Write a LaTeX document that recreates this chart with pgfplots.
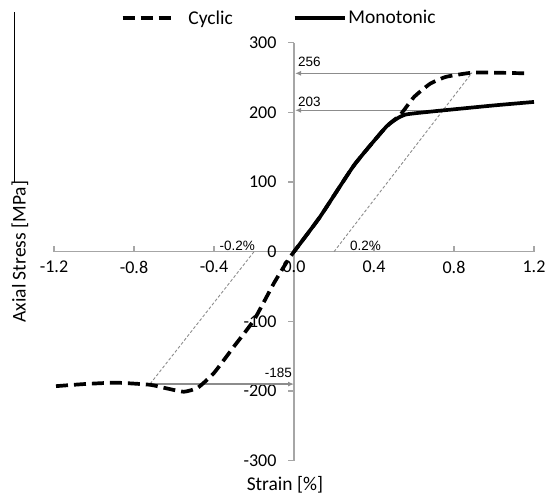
\documentclass[border=0pt]{standalone}
\usepackage{fontspec}
\setmainfont{Carlito}
\newfontfamily\arial{Liberation Sans}
\usepackage{pgfplots}
\pgfplotsset{compat=1.18}
\usetikzlibrary{arrows.meta}
\definecolor{axisgray}{HTML}{A6A6A6}
\definecolor{annogray}{HTML}{8C8C8C}

\begin{document}
\begin{tikzpicture}
\begin{axis}[
    scale only axis,
    width=480pt, height=418pt,
    xmin=-1.2, xmax=1.2, ymin=-300, ymax=300,
    axis lines=middle,
    axis line style={axisgray, line width=1.2pt, -},
    clip=false,
    xtick={-1.2,-0.8,-0.4,0,0.4,0.8,1.2},
    xticklabels={-1.2,-0.8,-0.4,0.0,0.4,0.8,1.2},
    ytick={-300,-200,-100,0,100,200,300},
    yticklabels={-300,-200,-100,0,100,200,300},
    hide obscured x ticks=false, hide obscured y ticks=false,
    major tick length=6pt,
    tick style={axisgray, line width=1.2pt},
    xtick align=inside, ytick align=outside,
    tick label style={font=\fontsize{18}{20}\selectfont},
    x tick label style={anchor=north, yshift=-6pt},
    y tick label style={anchor=east, xshift=-8pt},
    xlabel={Strain [\%]},
    ylabel={Axial Stress [MPa]},
    label style={font=\fontsize{19.5}{22}\selectfont},
    xlabel style={at={(axis description cs:0.481,-0.058)}, anchor=center},
    ylabel style={at={(axis description cs:-0.071,0.5)}, anchor=center, rotate=90},
    legend columns=2,
    legend style={at={(axis description cs:0.469,1.059)}, anchor=center,
        draw=none, fill=none, font=\fontsize{19.5}{22}\selectfont,
        /tikz/every even column/.append style={column sep=58pt}},
    legend image code/.code={\draw[#1] (0pt,0pt) -- (50pt,0pt);},
]
% offset lines and read-off arrows
\addplot[forget plot, annogray, line width=0.9pt, dash pattern=on 3pt off 2pt]
    coordinates {(0.2,0) (0.89,257)};
\addplot[forget plot, annogray, line width=0.9pt, dash pattern=on 3pt off 2pt]
    coordinates {(-0.2,0) (-0.72,-190)};
\addplot[forget plot, annogray, line width=1.5pt, -{Latex[length=6pt,width=5pt]}]
    coordinates {(0.89,256) (0.005,256)};
\addplot[forget plot, annogray, line width=1.5pt, -{Latex[length=6pt,width=5pt]}]
    coordinates {(0.75,203) (0.005,203)};
\addplot[forget plot, annogray, line width=1.5pt, -{Latex[length=6pt,width=5pt]}]
    coordinates {(-0.72,-190) (0.0,-190)};

\addplot[black, line width=3.7pt, dash pattern=on 12pt off 6pt, smooth, tension=0.3] coordinates {
    (-1.19,-193) (-1.05,-190) (-0.89,-188) (-0.72,-191) (-0.64,-196)
    (-0.55,-201) (-0.48,-195) (-0.40,-174) (-0.30,-136) (-0.20,-98)
    (-0.10,-45) (-0.03,-12) (0,0) (0.13,50) (0.30,124) (0.46,179)
    (0.53,196) (0.60,222) (0.68,241) (0.76,251) (0.89,257) (1.0,257)
    (1.17,256)};
\addlegendentry{\hspace{12pt}Cyclic}
\addplot[black, line width=3.7pt, smooth, tension=0.3] coordinates {
    (0,0) (0.13,50) (0.30,124) (0.46,179) (0.52,192) (0.56,197)
    (0.63,199.5) (0.75,203) (1.0,210) (1.2,215)};
\addlegendentry{Monotonic}

\node[anchor=west, inner sep=0pt, font=\arial\fontsize{13.5}{15}\selectfont] at (axis cs:0.02,272) {256};
\node[anchor=west, inner sep=0pt, font=\arial\fontsize{13.5}{15}\selectfont] at (axis cs:0.02,215) {203};
\node[anchor=east, inner sep=0pt, font=\arial\fontsize{13.5}{15}\selectfont] at (axis cs:-0.01,-174) {-185};
\node[anchor=east, inner sep=0pt, font=\arial\fontsize{13.5}{15}\selectfont] at (axis cs:-0.195,9) {-0.2\%};
\node[anchor=west, inner sep=0pt, font=\arial\fontsize{13.5}{15}\selectfont] at (axis cs:0.28,9) {0.2\%};

\draw[black, line width=1pt] (axis description cs:-0.083,1.073) -- (axis description cs:-0.083,0.667);
\coordinate (bl) at (rel axis cs:0,0);
\end{axis}
\pgfresetboundingbox
\path[use as bounding box] (bl) ++(-54pt,-35.3pt) rectangle ++(553pt,496pt);
\end{tikzpicture}
\end{document}
